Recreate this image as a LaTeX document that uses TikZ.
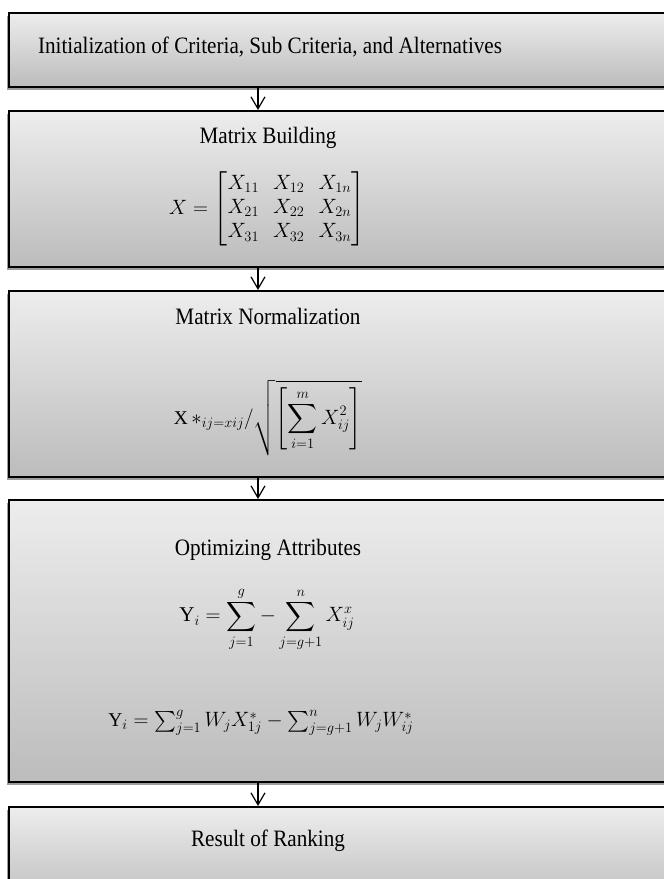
\documentclass[tikz,border=0pt]{standalone}
\usepackage{amsmath}
\usepackage{fontspec}
\setmainfont{Liberation Serif}
\usetikzlibrary{arrows.meta,shadows}
\definecolor{topc}{HTML}{EDEDED}
\definecolor{botc}{HTML}{BCBCBC}
\begin{document}
\begin{tikzpicture}[x=1pt,y=-1pt,
  stagebox/.style={draw=black, line width=1.5pt, rectangle, inner sep=0pt,
    minimum width=700pt, anchor=north west,
    top color=topc, bottom color=botc,
    drop shadow={shadow xshift=-2pt, shadow yshift=-3pt, opacity=0.55, fill=black!70}},
  label/.style={font=\fontsize{23.5}{28}\selectfont, inner sep=0pt, xscale=0.9, transform shape},
  mathlbl/.style={font=\fontsize{#1}{#1}\selectfont, inner sep=0pt},
  arr/.style={line width=1.2pt, -{Straight Barb[length=12pt,width=14pt,line width=1.2pt]}}
]
\useasboundingbox (0,0) rectangle (664,879);
\clip (0,0) rectangle (664,879);

\node[stagebox, minimum height=74pt]  (b1) at (8,12)  {};
\node[stagebox, minimum height=156pt] (b2) at (8,110) {};
\node[stagebox, minimum height=186pt] (b3) at (8,290) {};
\node[stagebox, minimum height=282pt] (b4) at (8,499) {};
\node[stagebox, minimum height=100pt] (b5) at (8,806) {};

\node[label] (t1) at (270,47) {Initialization of Criteria, Sub Criteria, and Alternatives};

\node[label] (t2) at (268,138) {Matrix Building};
\node[mathlbl=21] (m2) at (267,209) {\setlength\arraycolsep{7pt}\renewcommand\arraystretch{1.15}$X=\begin{bmatrix}X_{11} & X_{12} & X_{1n}\\ X_{21} & X_{22} & X_{2n}\\ X_{31} & X_{32} & X_{3n}\end{bmatrix}$};

\node[label] (t3) at (268,316) {Matrix Normalization};
\node[mathlbl=19.5] (m3) at (268,418) {$\mathrm{X}\,{*}_{ij=xij}/\sqrt{\left[\displaystyle\sum_{i=1}^{m} X_{ij}^{2}\right]}$};

\node[label] (t4) at (268,550) {Optimizing Attributes};
\node[mathlbl=21] (m4a) at (267,619) {$\displaystyle \mathrm{Y}_i=\sum_{j=1}^{g}-\sum_{j=g+1}^{n} X_{ij}^{x}$};
\node[mathlbl=19.5] (m4b) at (261,723) {$\mathrm{Y}_i=\sum_{j=1}^{g}W_jX_{1j}^{*}-\sum_{j=g+1}^{n}W_jW_{ij}^{*}$};

\node[label] (t5) at (268,841) {Result of Ranking};

\draw[arr] ([xshift=250pt]b1.south west) -- ([xshift=250pt]b2.north west);
\draw[arr] ([xshift=250pt]b2.south west) -- ([xshift=250pt]b3.north west);
\draw[arr] ([xshift=250pt]b3.south west) -- ([xshift=250pt]b4.north west);
\draw[arr] ([xshift=250pt]b4.south west) -- ([xshift=250pt]b5.north west);
\end{tikzpicture}
\end{document}
